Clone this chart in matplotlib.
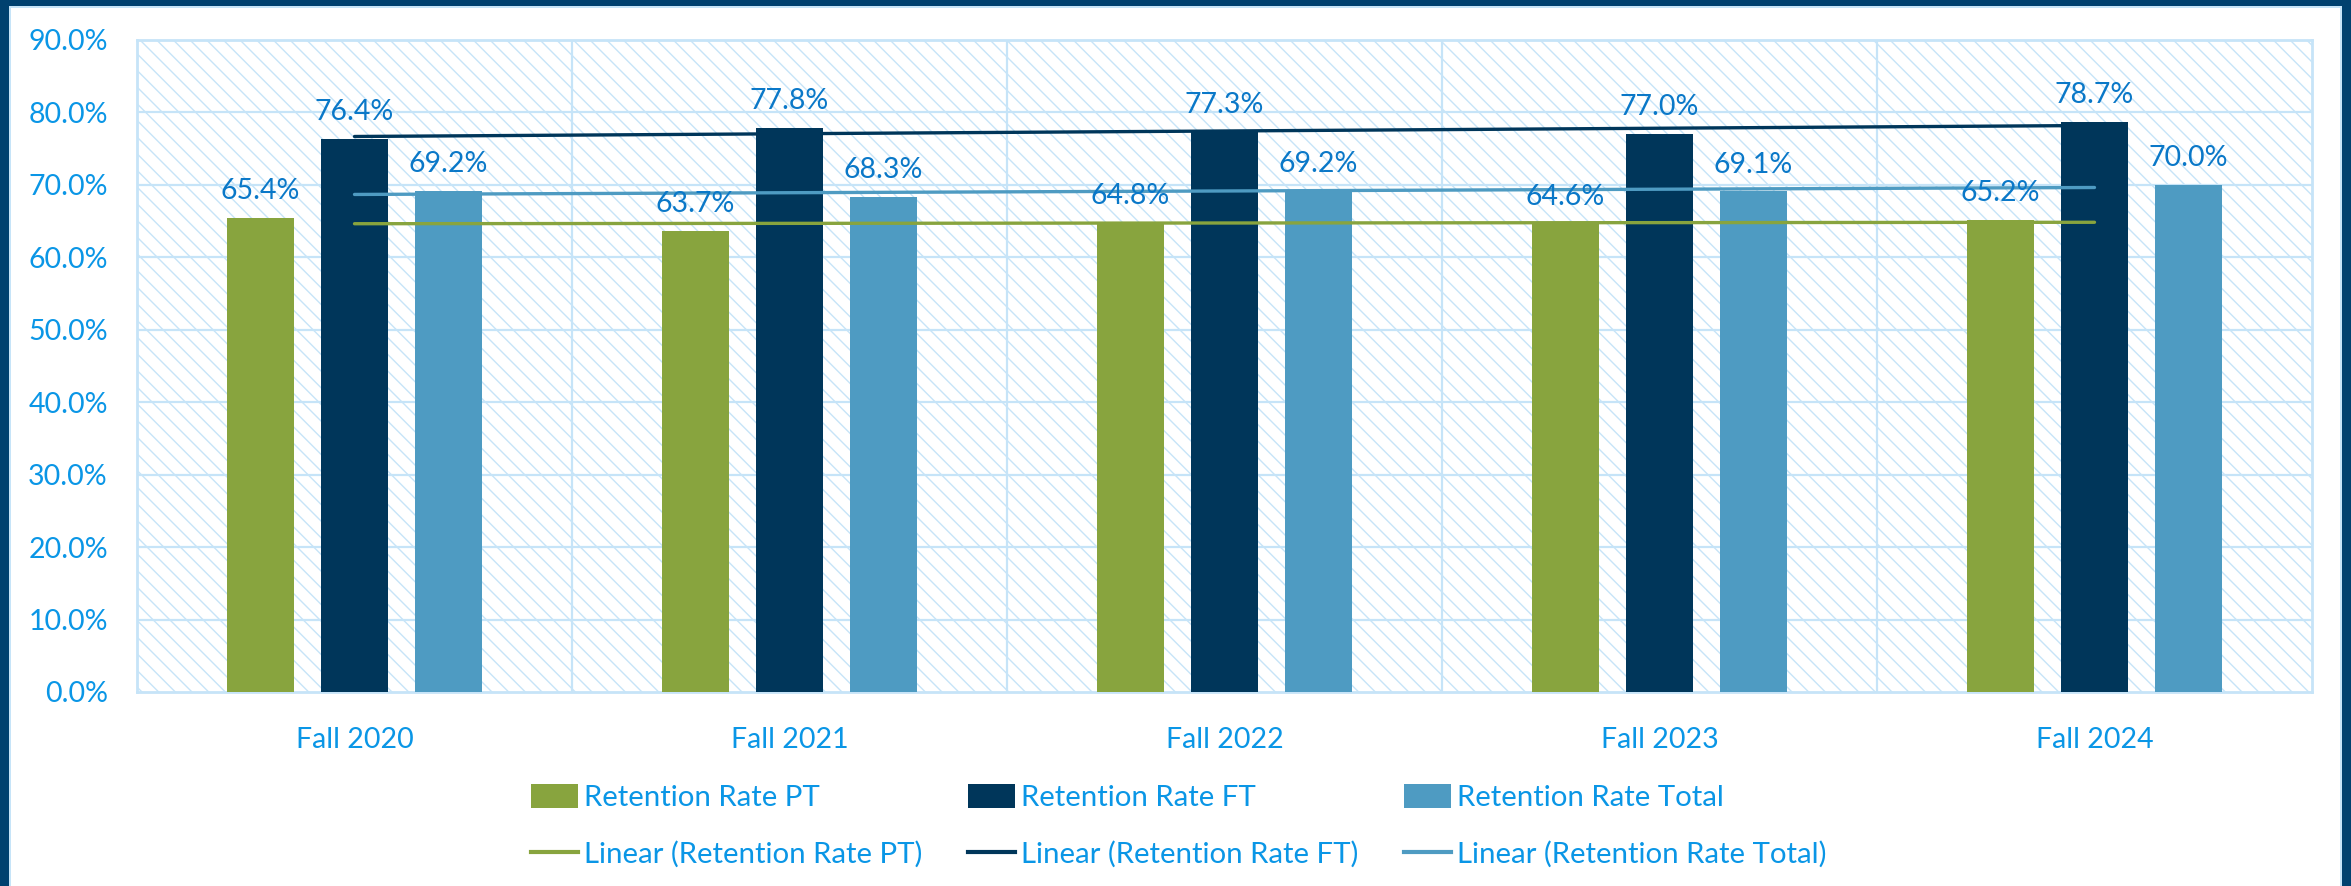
import matplotlib
matplotlib.use("Agg")
import matplotlib.pyplot as plt
from matplotlib.patches import Rectangle
from matplotlib.lines import Line2D
from matplotlib.patches import Patch
import numpy as np

categories = ["Fall 2020", "Fall 2021", "Fall 2022", "Fall 2023", "Fall 2024"]
pt_values = [65.4, 63.7, 64.8, 64.6, 65.2]
ft_values = [76.4, 77.8, 77.3, 77.0, 78.7]
total_values = [69.2, 68.3, 69.2, 69.1, 70.0]
series_names = ["Retention Rate PT", "Retention Rate FT", "Retention Rate Total"]
y_ticks = [0, 10, 20, 30, 40, 50, 60, 70, 80, 90]

colors = ["#88A43E", "#00365A", "#4E9BC2"]
tick_color = "#0A96E6"
label_color = "#0A78C8"
grid_color = "#C6E4F8"
border_dark = "#00416F"

plt.rcParams['font.family'] = ['Lato', 'DejaVu Sans']
plt.rcParams['hatch.linewidth'] = 1.0

W, H = 2351, 886
fig = plt.figure(figsize=(W / 100, H / 100), dpi=100)
fig.patch.set_facecolor(border_dark)
# inner white panel with light blue edge
fig.patches.append(Rectangle((9 / W, 0), (2342 - 9) / W, 1 - 6 / H,
                             transform=fig.transFigure, facecolor=grid_color,
                             edgecolor='none', zorder=-2))
fig.patches.append(Rectangle((11 / W, 0), (2340 - 11) / W, 1 - 8 / H,
                             transform=fig.transFigure, facecolor='white',
                             edgecolor='none', zorder=-1))

left, right, top, bottom = 137, 2312, 40, 692
ax = fig.add_axes([left / W, 1 - bottom / H, (right - left) / W, (bottom - top) / H])
ax.set_zorder(2)
ax.patch.set_facecolor('white')
ax.patch.set_edgecolor(grid_color)
ax.patch.set_hatch('\\\\')
ax.patch.set_linewidth(0)

x = np.arange(len(categories))
bw = 0.152
off = 0.216
data = [pt_values, ft_values, total_values]
for i, (vals, c) in enumerate(zip(data, colors)):
    pos = x + (i - 1) * off
    ax.bar(pos, vals, width=bw, color=c, zorder=3)
    for xp, v in zip(pos, vals):
        ax.annotate(f"{v:.1f}%", (xp, v), xytext=(0, 10), textcoords='offset points',
                    ha='center', va='bottom', fontsize=20.5, color=label_color, zorder=5)

# linear trend lines
for vals, c in zip(data, colors):
    coef = np.polyfit(x, vals, 1)
    ax.plot(x, np.polyval(coef, x), color=c, lw=2.4, zorder=4, solid_capstyle='round')

ax.set_xlim(-0.5, len(categories) - 0.5)
ax.set_ylim(0, 90)
ax.set_yticks(y_ticks)
ax.set_yticklabels([f"{t:.1f}%" for t in y_ticks])
ax.set_xticks(x)
ax.set_xticklabels(categories)
ax.tick_params(axis='both', length=0, labelsize=20.5, colors=tick_color)
ax.tick_params(axis='y', pad=21)
ax.tick_params(axis='x', pad=25)

for yv in y_ticks[1:-1]:
    ax.axhline(yv, color=grid_color, lw=1.6, zorder=1)
for xv in np.arange(0.5, len(categories) - 0.5, 1):
    ax.axvline(xv, color=grid_color, lw=1.6, zorder=1)
for sp in ax.spines.values():
    sp.set_color(grid_color)
    sp.set_linewidth(2.0)

handles = []
for n, c in zip(series_names, colors):
    handles.append(Patch(facecolor=c, edgecolor='none'))
for n, c in zip(series_names, colors):
    handles.append(Line2D([0], [0], color=c, lw=3))
labels = series_names + [f"Linear ({n})" for n in series_names]
order = [0, 3, 1, 4, 2, 5]
leg = fig.legend([handles[i] for i in order], [labels[i] for i in order],
                 ncol=3, loc='center left', bbox_to_anchor=(504 / W, 1 - 826 / H),
                 frameon=False, fontsize=21.2, labelcolor=tick_color,
                 handlelength=1.6, handleheight=0.9, handletextpad=0.2,
                 columnspacing=1.55, labelspacing=1.0)

fig.savefig("out.png", dpi=100, facecolor=fig.get_facecolor())
